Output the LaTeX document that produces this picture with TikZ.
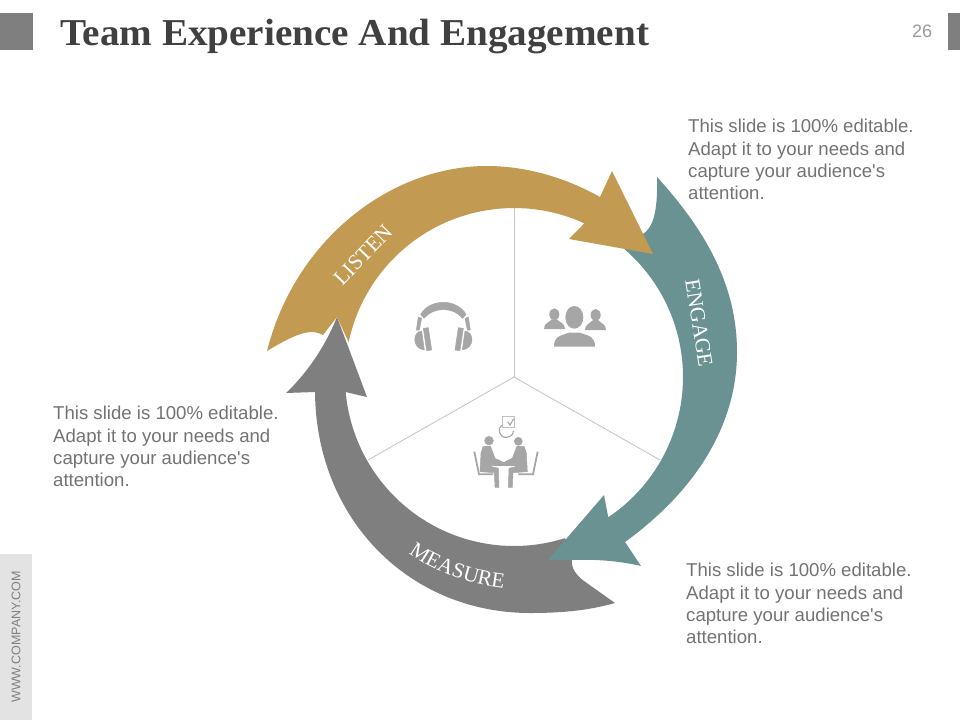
\documentclass[tikz,border=0pt]{standalone}
\usepackage{fontspec}
\usepackage{xcolor}
\usetikzlibrary{decorations.text}
\setmainfont{Liberation Sans}
\newfontfamily\serifface{Liberation Serif}
\newfontfamily\titleface[FakeStretch=1.03]{Liberation Serif}

\definecolor{goldband}{HTML}{C39A52}
\definecolor{tealband}{HTML}{6A9292}
\definecolor{grayband}{HTML}{7F7F7F}
\definecolor{iconfill}{HTML}{A6A6A6}

\tikzset{
    bodytext/.style={anchor=north west, align=left, inner sep=0pt, text=black!55,
        font=\fontsize{18.6}{22.4}\selectfont},
    bandlabel/.style={text=white, inner sep=0pt, font=\serifface\fontsize{21.5}{22}\selectfont},
    divider/.style={draw=black!22, line width=0.9pt},
    iconshape/.style={fill=iconfill, draw=iconfill, line width=0.5pt, line join=round},
    iconline/.style={draw=iconfill, line cap=butt}
}

\begin{document}
\begin{tikzpicture}[x=1pt,y=-1pt]

        \useasboundingbox (0,0) rectangle (960,720);

        % header and side bars

        \fill[grayband] (0,13) rectangle (33,50);
        \fill[grayband] (948,13) rectangle (960,50);
        \fill[black!11] (0,554) rectangle (32,720);

        \node[anchor=west, inner sep=0pt, text=black!75] (title) at (60,37)
            {\titleface\bfseries\fontsize{38}{38}\selectfont Team Experience And Engagement};
        \node[text=black!40, inner sep=0pt, font=\fontsize{18}{18}\selectfont] (pagenum) at (922,31) {26};
        \node[rotate=90, text=black!50, inner sep=0pt, font=\fontsize{12.5}{12.5}\selectfont] (company) at (16,637) {WWW.COMPANY.COM};

        % dividers

        \coordinate (hub) at (514,377);
        \draw[divider] (hub) -- (514,208);
        \draw[divider] (hub) -- (368,460);
        \draw[divider] (hub) -- (660,460);

        % measure

        \fill[grayband] (615,603) .. controls (590,610) and (565,613) .. (530,613)
            .. controls (410,613) and (316,520) .. (315,392)
            -- (286,393) .. controls (302,378) and (323,352) .. (337,317)
            -- (367,397) -- ([shift={(514,377)}]174.9:169) arc (174.9:72.4:169)
            -- (572,560) .. controls (571,568) and (576,575) .. (584,581) -- cycle;

        % engage

        \fill[tealband] (657,177) .. controls (710,235) and (737,290) .. (737,352)
            .. controls (737,430) and (690,495) .. (625,542)
            -- (641,566) .. controls (620,561) and (595,559) .. (572,560) -- (548,560)
            -- (604,495) -- ([shift={(514,377)}]56.1:169) arc (56.1:-49.4:169)
            -- (643,234) .. controls (652,228) and (658,215) .. cycle;

        % listen

        \fill[goldband] (267,351) .. controls (295,240) and (390,166) .. (487,166)
            .. controls (530,166) and (570,180) .. (600,197)
            -- (612,171) -- (653,254) -- (569,239)
            -- ([shift={(514,377)}]294.6:169) arc (294.6:191.9:169)
            -- (337,317) -- (323,335) .. controls (312,329) and (300,331) .. cycle;

        \node[bandlabel, rotate=46] (listen) at (363,255) {LISTEN};
        \node[bandlabel, rotate=-81] (engage) at (699,323) {ENGAGE};
        \path[decorate, decoration={text along path, text align=center,
            text={|\serifface\fontsize{21.5}{22}\selectfont\color{white}|MEASURE}}]
            (406,551) .. controls (425,567) and (465,585) .. (507,589);

        % texts

        \node[bodytext] (textlisten) at (53,406) {This slide is 100\% editable.\\Adapt it to your needs and\\capture your audience\textquotesingle s\\attention.};
        \node[bodytext] (textengage) at (688,119) {This slide is 100\% editable.\\Adapt it to your needs and\\capture your audience\textquotesingle s\\attention.};
        \node[bodytext] (textmeasure) at (686,563) {This slide is 100\% editable.\\Adapt it to your needs and\\capture your audience\textquotesingle s\\attention.};

        % headphones

        \begin{scope}[shift={(405,295)},scale=1/3]
            \path[iconshape] (47,58) .. controls (75,10) and (155,10) .. (183,58)
                -- (173,70) .. controls (145,35) and (85,35) .. (57,70) -- cycle;
            \path[iconshape] (40,66) -- (50,70) -- (43,105) -- (34,105) -- cycle;
            \path[iconshape] (190,66) -- (180,70) -- (187,105) -- (196,105) -- cycle;
            \path[iconshape] (55,100) -- (70,98) -- (80,165) -- (65,167) -- cycle;
            \path[iconshape] (175,100) -- (160,98) -- (150,165) -- (165,167) -- cycle;
            \path[iconshape] (50,108) .. controls (22,110) and (20,160) .. (58,165) -- cycle;
            \path[iconshape] (180,108) .. controls (208,110) and (210,160) .. (172,165) -- cycle;
        \end{scope}

        % people

        \begin{scope}[shift={(380,280)},scale=1/3]
            \fill[iconfill] (583,112) ellipse (27 and 34);
            \fill[iconfill] (522,200) .. controls (522,172) and (535,168) .. (568,158)
                -- (598,158) .. controls (632,168) and (645,172) .. (645,200) -- cycle;
            \fill[iconfill] (523,103) ellipse (15 and 18);
            \fill[iconfill] (492,147) .. controls (492,130) and (505,128) .. (516,118)
                -- (530,118) .. controls (541,128) and (555,130) .. (555,147) -- cycle;
            \fill[iconfill] (647,105) ellipse (15 and 18);
            \fill[iconfill] (615,150) .. controls (615,133) and (628,131) .. (640,120)
                -- (654,120) .. controls (665,131) and (678,133) .. (678,150) -- cycle;
        \end{scope}

        % meeting

        \begin{scope}[shift={(465,410)},scale=1/3]
            \draw[black!25, line width=0.6pt] (113,18) rectangle (148,52);
            \draw[iconfill, line width=1.1pt] (128,35) -- (135,45) -- (146,26);
            \draw[iconfill, line width=1.1pt] (113,45) .. controls (92,55) and (105,85) .. (125,82)
                .. controls (138,80) and (146,72) .. (145,62);
            \path[iconshape] (72,92) circle (13);
            \path[iconshape] (160,94) circle (12);
            \path[iconshape] (54,110) -- (76,108) -- (90,145) -- (112,155) -- (110,160)
                -- (85,158) -- (80,170) -- (100,175) -- (102,232) -- (90,232) -- (88,188)
                -- (45,185) -- (48,130) -- cycle;
            \path[iconshape] (178,110) -- (156,108) -- (142,145) -- (120,155) -- (122,160)
                -- (147,158) -- (152,170) -- (132,175) -- (130,232) -- (142,232) -- (144,188)
                -- (187,185) -- (184,130) -- cycle;
            \path[iconshape] (85,158) rectangle (155,165);
            \draw[iconline, line width=1.8pt] (28,125) -- (42,193) -- (85,193);
            \draw[iconline, line width=1.8pt] (218,125) -- (204,193) -- (160,193);
        \end{scope}

    \end{tikzpicture}
\end{document}
